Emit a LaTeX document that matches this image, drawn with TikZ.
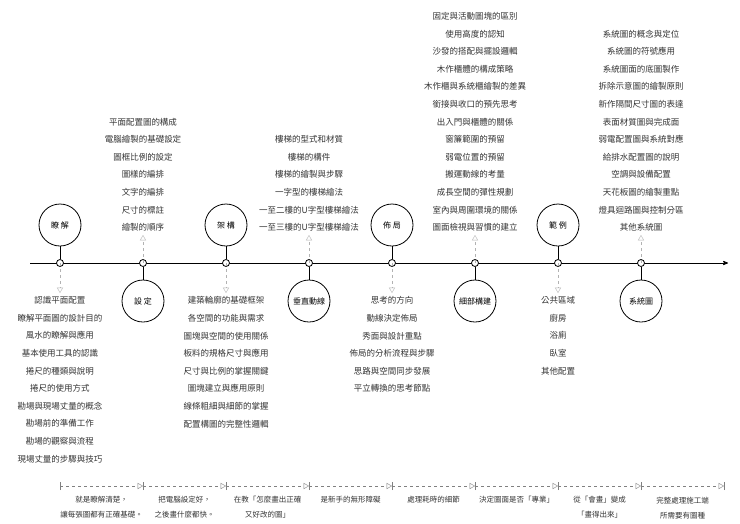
\documentclass[tikz,border=0pt]{standalone}
\usepackage{fontspec}
\setmainfont{Noto Sans CJK TC}
\usetikzlibrary{positioning,arrows}

\begin{document}
\begin{tikzpicture}[x=1pt,y=-1pt,semithick,
	topic/.style={circle,draw,thick,minimum size=42pt,inner sep=0pt,font=\fontsize{8}{9}\selectfont},
	dot/.style={circle,draw,thick,fill=white,minimum size=7pt,inner sep=0pt},
	items/.style={align=center,font=\fontsize{8.5}{17.6}\selectfont,text=black!80},
	hint/.style={->,>=open triangle 60,dashed,gray!60,thin},
	note/.style={align=center,font=\fontsize{7.5}{15}\selectfont,text=black!80}]
		\useasboundingbox (0,0) rectangle (740,523);
		
		\coordinate (start) at (30,263);
		\coordinate (end) at (728,263);
		\draw[thick,->,>=stealth'] (start) -- (end);
		
		\node[dot] (p1) at (60,263) {};
		\node[dot] (p2) at (143,263) {};
		\node[dot] (p3) at (226,263) {};
		\node[dot] (p4) at (309,263) {};
		\node[dot] (p5) at (392,263) {};
		\node[dot] (p6) at (475,263) {};
		\node[dot] (p7) at (558,263) {};
		\node[dot] (p8) at (641,263) {};
		
		\node[topic] (c1) at (60,225) {瞭 解};
		\node[topic] (c2) at (143,301) {設 定};
		\node[topic] (c3) at (226,225) {架 構};
		\node[topic] (c4) at (309,301) {垂直動線};
		\node[topic] (c5) at (392,225) {佈 局};
		\node[topic] (c6) at (475,301) {細部構建};
		\node[topic] (c7) at (558,225) {範 例};
		\node[topic] (c8) at (641,301) {系統圖};
		\foreach \i in {1,...,8} \draw[thick] (p\i) -- (c\i);
		
		\node[items,anchor=north] (l1) at (60,293) {認識平面配置\\瞭解平面圖的設計目的\\風水的瞭解與應用\\基本使用工具的認識\\捲尺的種類與說明\\捲尺的使用方式\\勘場與現場丈量的概念\\勘場前的準備工作\\勘場的觀察與流程\\現場丈量的步驟與技巧};
		\node[items,anchor=south] (l2) at (143,235) {平面配置圖的構成\\電腦繪製的基礎設定\\圖框比例的設定\\圖樣的編排\\文字的編排\\尺寸的標註\\繪製的順序};
		\node[items,anchor=north] (l3) at (226,293) {建築輪廓的基礎框架\\各空間的功能與需求\\圖塊與空間的使用關係\\板料的規格尺寸與應用\\尺寸與比例的掌握關鍵\\圖塊建立與應用原則\\線條粗細與細節的掌握\\配置構圖的完整性邏輯};
		\node[items,anchor=south] (l4) at (309,235) {樓梯的型式和材質\\樓梯的構件\\樓梯的繪製與步驟\\一字型的樓梯繪法\\一至二樓的U字型樓梯繪法\\一至三樓的U字型樓梯繪法};
		\node[items,anchor=north] (l5) at (392,293) {思考的方向\\動線決定佈局\\秀面與設計重點\\佈局的分析流程與步驟\\思路與空間同步發展\\平立轉換的思考節點};
		\node[items,anchor=south] (l6) at (475,235) {固定與活動圖塊的區別\\使用高度的認知\\沙發的搭配與擺設邏輯\\木作櫃體的構成策略\\木作櫃與系統櫃繪製的差異\\銜接與收口的預先思考\\出入門與櫃體的關係\\窗簾範圍的預留\\弱電位置的預留\\搬運動線的考量\\成長空間的彈性規劃\\室內與周圍環境的關係\\圖面檢視與習慣的建立};
		\node[items,anchor=north] (l7) at (558,293) {公共區域\\廚房\\浴廁\\臥室\\其他配置};
		\node[items,anchor=south] (l8) at (641,235) {系統圖的概念與定位\\系統圖的符號應用\\系統圖面的底圖製作\\拆除示意圖的繪製原則\\新作隔間尺寸圖的表達\\表面材質圖與完成面\\弱電配置圖與系統對應\\給排水配置圖的說明\\空調與設備配置\\天花板圖的繪製重點\\燈具迴路圖與控制分區\\其他系統圖};
		
		\foreach \i in {1,3,5,7} \draw[hint] ([yshift=4pt]p\i.south) -- (l\i.north);
		\foreach \i in {2,4,6,8} \draw[hint] ([yshift=-4pt]p\i.north) -- (l\i.south);
		
		% bottom band
		\foreach \x [count=\k] in {60,143,226,309,392,475,558,641,724}
			\coordinate (t\k) at (\x,486);
		\foreach \k in {1,...,9}
			\draw[gray,thin] ([yshift=-4pt]t\k) -- ([yshift=4pt]t\k);
		\foreach \k [evaluate=\k as \n using int(\k+1)] in {1,...,8}
			\draw[gray,thin,dashed,->,>=open triangle 60] (t\k) -- (t\n);
		\node[note,anchor=north] (n1) at (101.5,493) {就是瞭解清楚，\\讓每張圖都有正確基礎。};
		\node[note,anchor=north] (n2) at (184.5,493) {把電腦設定好，\\之後畫什麼都快。};
		\node[note,anchor=north] (n3) at (267.5,493) {在教「怎麼畫出正確\\又好改的圖」};
		\node[note,anchor=north] (n4) at (350.5,493) {是新手的無形障礙};
		\node[note,anchor=north] (n5) at (433.5,493) {處理耗時的細節};
		\node[note,anchor=north] (n6) at (516.5,493) {決定圖面是否「專業」};
		\node[note,anchor=north] (n7) at (599.5,493) {從「會畫」變成\\「畫得出來」};
		\node[note,anchor=north] (n8) at (682.5,493) {完整處理施工端\\所需要有圖種};
\end{tikzpicture}
\end{document}
